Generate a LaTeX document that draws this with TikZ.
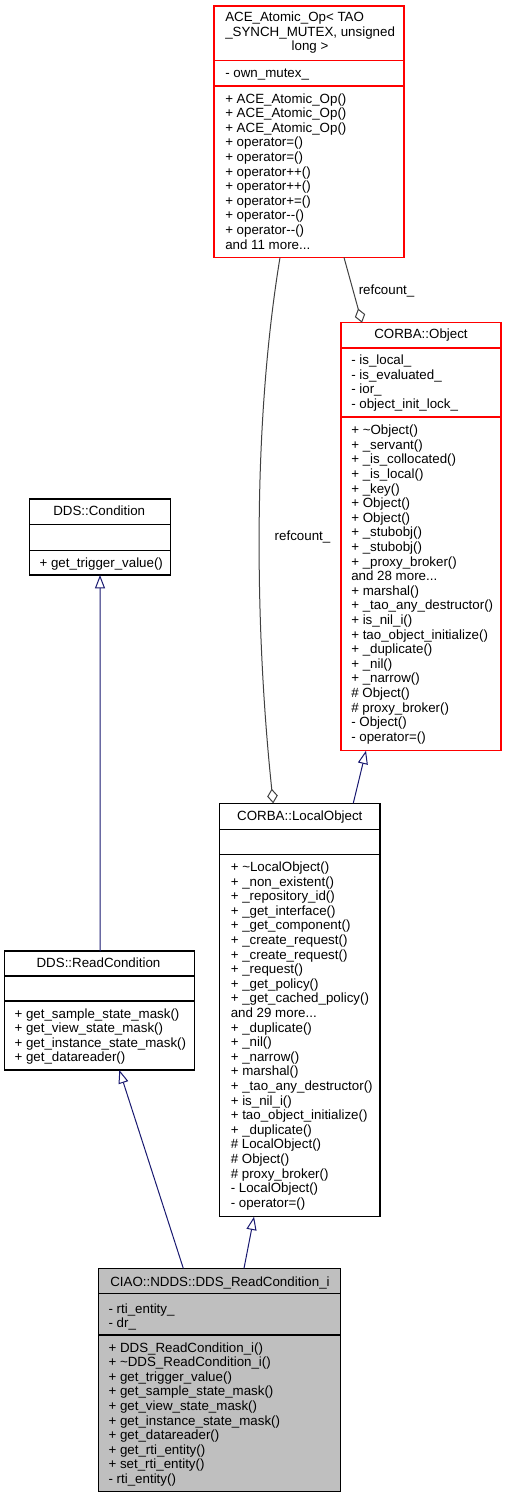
\documentclass[tikz,border=0pt]{standalone}
\usepackage{fontspec}
\setmainfont{Liberation Sans}
\usetikzlibrary{arrows.meta,calc}
\definecolor{edgegray}{HTML}{404040}
\definecolor{inhblue}{HTML}{191970}
\definecolor{boxred}{HTML}{FF0000}
\definecolor{fillgray}{HTML}{BFBFBF}
\begin{document}
\begin{tikzpicture}[x=0.75pt,y=-0.75pt,
  cls/.style={draw, line width=0.8pt, inner sep=0pt, outer sep=0pt, anchor=center, fill=white},
  redcls/.style={cls, draw=boxred},
  blkcls/.style={cls, draw=black},
  redsep/.style={draw=boxred, line width=0.8pt},
  blksep/.style={draw=black, line width=0.8pt},
  txt/.style={inner sep=0pt, font=\fontsize{10}{10.95}\selectfont, align=left, anchor=north west},
  ttl/.style={inner sep=0pt, font=\fontsize{10}{10.95}\selectfont, anchor=base},
  lbl/.style={inner sep=0pt, font=\fontsize{10}{10.95}\selectfont, anchor=base},
  aggr/.style={draw=edgegray, line width=0.75pt, -{Diamond[open, length=11pt, width=8pt, line width=0.75pt]}},
  inh/.style={draw=inhblue, line width=0.75pt, -{Triangle[open, length=10pt, width=7.5pt, line width=0.75pt]}}
]
\useasboundingbox (0,0) rectangle (507,1499);

% ---------- ACE_Atomic_Op ----------
\node[redcls, minimum width=142.5pt, minimum height=188.6pt] (ace) at (309,131.75) {};
\draw[redsep] ($(ace.north west)+(0,54.7)$) -- ($(ace.north east)+(0,54.7)$);
\draw[redsep] ($(ace.north west)+(0,80)$) -- ($(ace.north east)+(0,80)$);
\node[txt] (ace-t) at (225,11.2) {\strut ACE\_Atomic\_Op< TAO\\\_SYNCH\_MUTEX, unsigned};
\node[ttl] (ace-t3) at (310,50.9) {long >};
\node[ttl, anchor=base west] (ace-a) at (225,77.2) {- own\_mutex\_};
\node[txt] (ace-m) at (225,92.6) {\strut + ACE\_Atomic\_Op()\\+ ACE\_Atomic\_Op()\\+ ACE\_Atomic\_Op()\\+ operator=()\\+ operator=()\\+ operator++()\\+ operator++()\\+ operator+=()\\+ operator-{}-()\\+ operator-{}-()\\and 11 more...};

% ---------- CORBA::Object ----------
\node[redcls, minimum width=120pt, minimum height=321pt] (obj) at (421,536.7) {};
\draw[redsep] ($(obj.north west)+(0,25.3)$) -- ($(obj.north east)+(0,25.3)$);
\draw[redsep] ($(obj.north west)+(0,94.3)$) -- ($(obj.north east)+(0,94.3)$);
\node[ttl] (obj-t) at (421,338.5) {CORBA::Object};
\node[txt] (obj-a) at (351,354.3) {\strut - is\_local\_\\- is\_evaluated\_\\- ior\_\\- object\_init\_lock\_};
\node[txt] (obj-m) at (351,424.3) {\strut + \textasciitilde Object()\\+ \_servant()\\+ \_is\_collocated()\\+ \_is\_local()\\+ \_key()\\+ Object()\\+ Object()\\+ \_stubobj()\\+ \_stubobj()\\+ \_proxy\_broker()\\and 28 more...\\+ marshal()\\+ \_tao\_any\_destructor()\\+ is\_nil\_i()\\+ tao\_object\_initialize()\\+ \_duplicate()\\+ \_nil()\\+ \_narrow()\\\# Object()\\\# proxy\_broker()\\- Object()\\- operator=()};

% ---------- CORBA::LocalObject ----------
\node[blkcls, minimum width=120.5pt, minimum height=310pt] (lobj) at (299.65,1010) {};
\draw[blksep] ($(lobj.north west)+(0,26)$) -- ($(lobj.north east)+(0,26)$);
\draw[blksep] ($(lobj.north west)+(0,51.4)$) -- ($(lobj.north east)+(0,51.4)$);
\node[ttl] (lobj-t) at (299.8,820.2) {CORBA::LocalObject};
\node[txt] (lobj-m) at (230.5,861) {\strut + \textasciitilde LocalObject()\\+ \_non\_existent()\\+ \_repository\_id()\\+ \_get\_interface()\\+ \_get\_component()\\+ \_create\_request()\\+ \_create\_request()\\+ \_request()\\+ \_get\_policy()\\+ \_get\_cached\_policy()\\and 29 more...\\+ \_duplicate()\\+ \_nil()\\+ \_narrow()\\+ marshal()\\+ \_tao\_any\_destructor()\\+ is\_nil\_i()\\+ tao\_object\_initialize()\\+ \_duplicate()\\\# LocalObject()\\\# Object()\\\# proxy\_broker()\\- LocalObject()\\- operator=()};

% ---------- DDS::Condition ----------
\node[blkcls, minimum width=106pt, minimum height=57pt] (cond) at (100,537) {};
\draw[blksep] ($(cond.north west)+(0,25.3)$) -- ($(cond.north east)+(0,25.3)$);
\draw[blksep] ($(cond.north west)+(0,51.3)$) -- ($(cond.north east)+(0,51.3)$);
\node[ttl] (cond-t) at (99.2,515.2) {DDS::Condition};
\node[ttl, anchor=base west] (cond-m) at (39.3,567.2) {+ get\_trigger\_value()};

% ---------- DDS::ReadCondition ----------
\node[blkcls, minimum width=142.5pt, minimum height=89.25pt] (rc) at (99.3,1010.5) {};
\draw[blksep] ($(rc.north west)+(0,25)$) -- ($(rc.north east)+(0,25)$);
\draw[blksep] ($(rc.north west)+(0,50)$) -- ($(rc.north east)+(0,50)$);
\node[ttl] (rc-t) at (98.5,967.8) {DDS::ReadCondition};
\node[txt] (rc-m) at (14.3,1007.6) {\strut + get\_sample\_state\_mask()\\+ get\_view\_state\_mask()\\+ get\_instance\_state\_mask()\\+ get\_datareader()};

% ---------- CIAO::NDDS::DDS_ReadCondition_i ----------
\node[blkcls, fill=fillgray, minimum width=181.8pt, minimum height=167.55pt] (ciao) at (219.5,1380) {};
\draw[blksep] ($(ciao.north west)+(0,25)$) -- ($(ciao.north east)+(0,25)$);
\draw[blksep] ($(ciao.north west)+(0,66.7)$) -- ($(ciao.north east)+(0,66.7)$);
\node[ttl] (ciao-t) at (220,1286.2) {CIAO::NDDS::DDS\_ReadCondition\_i};
\node[txt] (ciao-a) at (108.3,1302.6) {\strut - rti\_entity\_\\- dr\_};
\node[txt] (ciao-m) at (108.3,1341.6) {\strut + DDS\_ReadCondition\_i()\\+ \textasciitilde DDS\_ReadCondition\_i()\\+ get\_trigger\_value()\\+ get\_sample\_state\_mask()\\+ get\_view\_state\_mask()\\+ get\_instance\_state\_mask()\\+ get\_datareader()\\+ get\_rti\_entity()\\+ set\_rti\_entity()\\- rti\_entity()};

% ---------- connectors ----------
\draw[aggr] ($(ace.south)+(-29,0)$) .. controls (250,440) and (257,650) .. ($(lobj.north)+(-26.4,0)$);
\node[lbl] (lbl-lobj) at (302.5,540.2) {refcount\_};
\draw[aggr] ($(ace.south)+(35,0)$) -- ($(obj.north)+(-59,0)$);
\node[lbl, anchor=base west] (lbl-obj) at (358.5,294) {refcount\_};
\draw[inh] ($(lobj.north)+(53.6,0)$) -- ($(obj.south)+(-55,0)$);
\draw[inh] ($(rc.north)+(0.7,0)$) -- (cond.south);
\draw[inh] ($(ciao.north)+(-36.2,0)$) -- ($(rc.south)+(20,0)$);
\draw[inh] ($(ciao.north)+(24.5,0)$) -- ($(lobj.south)+(-45.6,0)$);
\end{tikzpicture}
\end{document}
